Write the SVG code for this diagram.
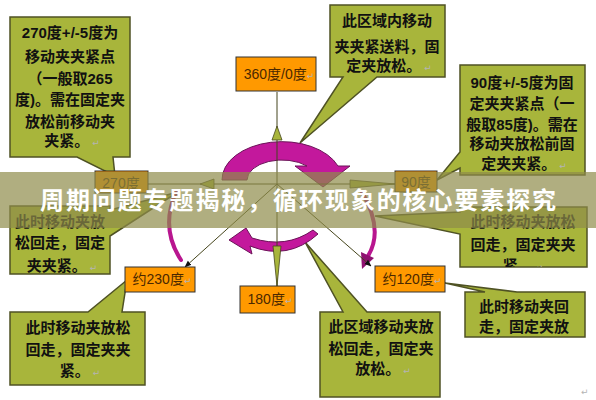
<svg xmlns="http://www.w3.org/2000/svg" width="596" height="400" viewBox="0 0 596 400">
<defs>
<style>
.co{fill:#a8b53b;stroke:#4f5224;stroke-width:1.5}
.ct{font-family:"Liberation Sans","Noto Sans CJK SC",sans-serif;font-weight:bold;font-size:15px;fill:#111;text-anchor:middle}
.pm{fill:#b4b4b4;font-weight:normal;font-size:9px;font-family:"DejaVu Sans",sans-serif}
.ob{fill:#ff9900;stroke:#333;stroke-width:1}
.ot{font-family:"Liberation Sans","Noto Sans CJK SC",sans-serif;font-size:14px;fill:#4a2800;text-anchor:middle}
.mg{fill:#c3189c;stroke:#6b1458;stroke-width:1}
.mt{fill:none;stroke:#b8168f;stroke-width:4;stroke-linecap:round}
.ln{stroke:#45451c;stroke-width:1;fill:none}
.ah{fill:#a8b53b;stroke:#45451c;stroke-width:0.8}
</style>
<marker id="blk" viewBox="0 0 10 10" refX="9" refY="5" markerWidth="7" markerHeight="7" orient="auto" markerUnits="userSpaceOnUse"><path d="M0,1 L10,5 L0,9 Z" fill="#111"/></marker>
<clipPath id="cRM"><rect x="460" y="207" width="127" height="60"/></clipPath>
<clipPath id="cBR"><rect x="465" y="292" width="120" height="45"/></clipPath>
</defs>
<rect width="596" height="400" fill="#fff"/>

<g id="note-topleft">
<path class="co" d="M10,17 H130 V157 H113 L115,176 L77,157 H10 Z"/>
<text class="ct" x="70" y="38">270度+/-5度为</text>
<text class="ct" x="70" y="62">移动夹夹紧点</text>
<text class="ct" x="70" y="84">（一般取265</text>
<text class="ct" x="70" y="105">度)。需在固定夹</text>
<text class="ct" x="70" y="127">放松前移动夹</text>
<text class="ct" x="72" y="146">夹紧。<tspan class="pm"> ↵</tspan></text>
</g>

<g id="note-topcenter">
<path class="co" d="M330,5 H445 V77 H377 L300,143 L343,77 H330 Z"/>
<text class="ct" x="387" y="26">此区域内移动</text>
<text class="ct" x="387" y="52">夹夹紧送料，固</text>
<text class="ct" x="389" y="71">定夹放松。<tspan class="pm"> ↵</tspan></text>
</g>

<g id="note-topright">
<path class="co" d="M460,65 H585 V175 H460 V168 L437,180 L460,152 Z"/>
<text class="ct" x="522" y="88">90度+/-5度为固</text>
<text class="ct" x="522" y="109">定夹夹紧点（一</text>
<text class="ct" x="522" y="130">般取85度)。需在</text>
<text class="ct" x="522" y="149">移动夹放松前固</text>
<text class="ct" x="524" y="169">定夹夹紧。<tspan class="pm"> ↵</tspan></text>
</g>

<g id="note-midleft">
<path class="co" d="M10,206 H110 V210 L178,192 L110,236 V274 H10 Z"/>
<text class="ct" x="60" y="227">此时移动夹放</text>
<text class="ct" x="60" y="248">松回走，固定</text>
<text class="ct" x="62" y="271">夹夹紧。<tspan class="pm"> ↵</tspan></text>
</g>

<g id="note-midright">
<path class="co" d="M460,207 H587 V267 H460 V234 L375,216 L460,212 Z"/>
<g clip-path="url(#cRM)">
<text class="ct" x="523" y="227">此时移动夹放松</text>
<text class="ct" x="523" y="250">回走，固定夹夹</text>
<text class="ct" x="523" y="271">紧。<tspan class="pm"> ↵</tspan></text>
</g>
</g>

<g id="note-bottomleft">
<path class="co" d="M10,312 H88 L127,280 L122,312 H145 V385 H10 Z"/>
<text class="ct" x="78" y="333">此时移动夹放松</text>
<text class="ct" x="78" y="355">回走，固定夹夹</text>
<text class="ct" x="80" y="376">紧。<tspan class="pm"> ↵</tspan></text>
</g>

<g id="note-bottomcenter">
<path class="co" d="M320,312 H343 L305,242 L367,312 H440 V397 H320 Z"/>
<text class="ct" x="381" y="332">此区域移动夹放</text>
<text class="ct" x="381" y="354">松回走，固定夹</text>
<text class="ct" x="383" y="374">放松。<tspan class="pm"> ↵</tspan></text>
</g>

<g id="note-bottomright">
<path class="co" d="M465,292 H485 L445,283 L517,292 H585 V337 H465 Z"/>
<g clip-path="url(#cBR)">
<text class="ct" x="524" y="312">此时移动夹回</text>
<text class="ct" x="524" y="332">走，固定夹放</text>
</g>
</g>

<g id="cycle-arrows">
<path class="mg" d="M222,180 A60,38 0 0 1 338,166 L350,166 L323,187 L295,166 L307,166 A35,20 0 0 0 247,180 Z"/>
<path class="mg" d="M318,234 Q288,261 250,246 L252,254 L229,240 L246,228 L252,238 Q286,249 313,230 Z"/>
<path class="mt" d="M176,192 Q160,228 181,260"/>
<path class="mt" d="M362,192 Q384,230 368,256"/>
<path d="M361,252 L374,258 L362,269 Z" fill="#8e1270"/>
</g>

<g id="connectors">
<line class="ln" x1="277" y1="92" x2="277" y2="286"/>
<path class="ah" d="M277,126 L272,140 L282,140 Z"/>
<path class="ah" d="M273,246 L281,246 L277,286 Z"/>
<line class="ln" x1="148" y1="184" x2="395" y2="184"/>
<path class="ah" d="M200,184 L214,179 L214,189 Z"/>
<path class="ah" d="M350,180 L350,188 L395,184 Z"/>
<line class="ln" x1="277" y1="184" x2="185" y2="267" marker-end="url(#blk)"/>
<line class="ln" x1="277" y1="184" x2="371" y2="266" marker-end="url(#blk)"/>
</g>

<g id="label-360">
<rect class="ob" x="236" y="57" width="80" height="34"/>
<text class="ot" x="279" y="79">360度/0度<tspan class="pm">↵</tspan></text>
</g>
<g id="label-270">
<rect class="ob" x="95" y="171" width="53" height="22"/>
<text class="ot" x="121" y="188">270度</text>
</g>
<g id="label-90">
<rect class="ob" x="395" y="171" width="42" height="21"/>
<text class="ot" x="416" y="187">90度</text>
</g>
<g id="label-230">
<rect class="ob" x="125" y="267" width="70" height="25"/>
<text class="ot" x="162" y="284">约230度<tspan class="pm">↵</tspan></text>
</g>
<g id="label-180">
<rect class="ob" x="240" y="286" width="55" height="27"/>
<text class="ot" x="270" y="304">180度<tspan class="pm">↵</tspan></text>
</g>
<g id="label-120">
<rect class="ob" x="375" y="266" width="70" height="26"/>
<text class="ot" x="412" y="284">约120度<tspan class="pm">↵</tspan></text>
</g>

<text class="pm" x="581" y="395">↵</text>

<g id="banner">
<rect x="0" y="172" width="596" height="56" fill="#8f8c4a" fill-opacity="0.7"/>
<text x="40" y="209" font-family="'Noto Sans CJK SC',sans-serif" font-weight="bold" font-size="24" letter-spacing="1.9" fill="#fff">周期问题专题揭秘，循环现象的核心要素探究</text>
</g>
</svg>
